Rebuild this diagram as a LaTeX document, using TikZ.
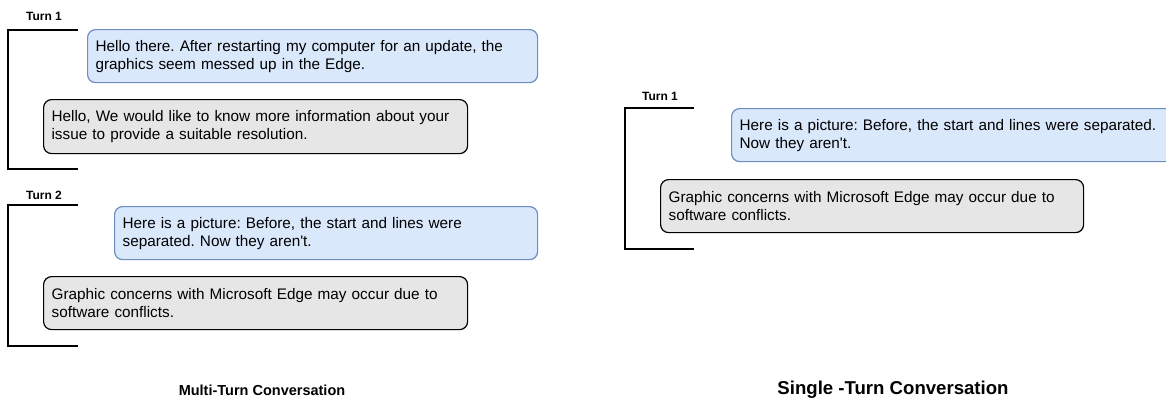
\documentclass[tikz,border=0pt]{standalone}
\usepackage{fontspec}
\newfontfamily\diofont{Liberation Sans}
\usepackage{tikz}
\usetikzlibrary{positioning}
\definecolor{userfill}{HTML}{DAE8FC}
\definecolor{userline}{HTML}{6C8EBF}
\definecolor{botfill}{HTML}{E6E6E6}
\frenchspacing

\begin{document}
\begin{tikzpicture}[x=1pt,y=-1pt,
      msg/.style={rounded corners=8pt,anchor=north west,inner xsep=8pt,inner ysep=0pt,
        align=left,font=\diofont\fontsize{15.3}{18}\selectfont},
      usermsg/.style={msg,draw=userline,fill=userfill,line width=1.2pt},
      botmsg/.style={msg,draw=black,fill=botfill,line width=1.2pt},
      turnlbl/.style={font=\diofont\bfseries\fontsize{12}{13}\selectfont},
      bracket/.style={line width=1.5pt},
    ]
        \useasboundingbox (0,0) rectangle (1166,402);
        \clip (0,0) rectangle (1166,402);
        \node[turnlbl] (t1) at (44,16) {Turn 1};
        \node[usermsg,text width=434pt,minimum height=53pt] (u1) at (87,29)
            {Hello there. After restarting my computer for an update, the\\graphics seem messed up in the Edge.};
        \node[botmsg,text width=408pt,minimum height=54pt] (b1) at (43,99)
            {Hello, We would like to know more information about your\\issue to provide a suitable resolution.};
        \coordinate (k1a) at (78,30);
        \coordinate (k1b) at (78,169);
        \draw[bracket] (k1a) -- (8,30) -- (8,169) -- (k1b);

        \node[turnlbl] (t2) at (44,195) {Turn 2};
        \node[usermsg,text width=407pt,minimum height=53pt] (u2) at (114,206)
            {Here is a picture: Before, the start and lines were\\separated. Now they aren't.};
        \node[botmsg,text width=408pt,minimum height=53pt] (b2) at (43,276)
            {Graphic concerns with Microsoft Edge may occur due to\\software conflicts.};
        \coordinate (k2a) at (78,205);
        \coordinate (k2b) at (78,346);
        \draw[bracket] (k2a) -- (8,205) -- (8,346) -- (k2b);

        \node[font=\diofont\bfseries\fontsize{14.5}{16}\selectfont] (cm) at (262,390) {Multi-Turn Conversation};

        \node[turnlbl] (st1) at (660,96) {Turn 1};
        \node[usermsg,text width=436pt,minimum height=53pt] (su1) at (731,108)
            {Here is a picture: Before, the start and lines were separated.\\Now they aren't.};
        \node[botmsg,text width=407pt,minimum height=53pt] (sb1) at (660,179)
            {Graphic concerns with Microsoft Edge may occur due to\\software conflicts.};
        \coordinate (ska) at (694,108);
        \coordinate (skb) at (694,249);
        \draw[bracket] (ska) -- (625,108) -- (625,249) -- (skb);

        \node[font=\diofont\bfseries\fontsize{18.6}{20}\selectfont] (cs) at (893,390) {Single -Turn Conversation};
    \end{tikzpicture}
\end{document}
